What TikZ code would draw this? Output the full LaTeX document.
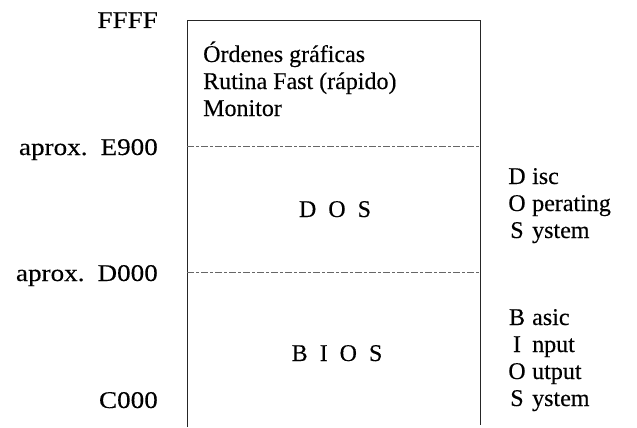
\documentclass[tikz,border=0pt]{standalone}
\usepackage{fontspec}
\setmainfont{Liberation Serif}[FakeBold=0.3]
\newfontfamily\widefont[FakeStretch=1.13,FakeBold=0.3]{Liberation Serif}
\begin{document}
\begin{tikzpicture}[x=1pt,y=-1pt,
  lbl/.style={anchor=base east,inner sep=0pt,font=\widefont\fontsize{24}{27}\selectfont},
  txt/.style={anchor=base west,inner sep=0pt,font=\fontsize{24}{27}\selectfont},
  mid/.style={anchor=base,inner sep=0pt,font=\fontsize{24}{27}\selectfont},
  frame/.style={line width=0.9pt,black!85},
  divider/.style={line width=0.6pt,black!60,dash pattern=on 7pt off 2pt on 3pt off 2pt}]
\useasboundingbox (0,0) rectangle (637,428);
% frame
\coordinate (tl) at (187,20);
\coordinate (tr) at (480,20);
\coordinate (bl) at (187,427);
\coordinate (br) at (480,425);
\coordinate (e9l) at (187,146);
\coordinate (e9r) at (480,146);
\coordinate (d0l) at (187,272);
\coordinate (d0r) at (480,272);
\draw[frame] (bl) -- (tl) -- (tr) -- (br);
\draw[divider] (e9l) -- (e9r);
\draw[divider] (d0l) -- (d0r);
% address labels
\node[lbl] (ffff) at (158,28) {FFFF};
\node[lbl] (e900) at (158,155) {aprox.\hspace{13pt}E900};
\node[lbl] (d000) at (158,281) {aprox.\hspace{13pt}D000};
\node[lbl] (c000) at (158,408) {C000};
% top region
\node[txt] (ord) at (203,62) {Órdenes gráficas};
\node[txt] (rut) at (203,89) {Rutina Fast (rápido)};
\node[txt] (mon) at (203,116) {Monitor};
% regions
\node[mid] (dos) at (335,217) {D\hspace{12pt}O\hspace{12pt}S};
\node[mid] (bios) at (337,361) {B\hspace{12pt}I\hspace{12pt}O\hspace{12pt}S};
% expansions
\node[mid] (l1) at (517,184) {D};
\node[txt] (w1) at (532,184) {isc};
\node[mid] (l2) at (517,211) {O};
\node[txt] (w2) at (532,211) {perating};
\node[mid] (l3) at (517,238) {S};
\node[txt] (w3) at (532,238) {ystem};
\node[mid] (l4) at (517,325) {B};
\node[txt] (w4) at (532,325) {asic};
\node[mid] (l5) at (517,352) {I};
\node[txt] (w5) at (532,352) {nput};
\node[mid] (l6) at (517,379) {O};
\node[txt] (w6) at (532,379) {utput};
\node[mid] (l7) at (517,406) {S};
\node[txt] (w7) at (532,406) {ystem};
\end{tikzpicture}
\end{document}
